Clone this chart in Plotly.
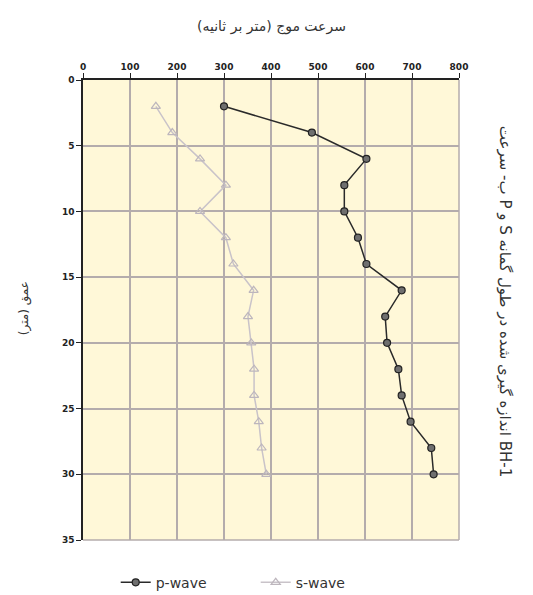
import plotly.graph_objects as go

depth = [2, 4, 6, 8, 10, 12, 14, 16, 18, 20, 22, 24, 26, 28, 30]
p_wave = [300, 487, 603, 556, 556, 585, 603, 678, 643, 647, 671, 678, 697, 741, 746]
s_wave = [155, 190, 249, 304, 249, 304, 320, 363, 351, 358, 364, 364, 374, 380, 390]
x_ticks = [0, 100, 200, 300, 400, 500, 600, 700, 800]
y_ticks = [0, 5, 10, 15, 20, 25, 30, 35]

x_title = "سرعت موج (متر بر ثانیه)"
y_title = "عمق (متر)"
side_title = "ب- سرعت P و S اندازه گیری شده در طول گمانه BH-1"

tick_font = dict(size=9, family="DejaVu Sans", color="#222", weight="bold")

fig = go.Figure()
fig.add_trace(go.Scatter(
    x=p_wave, y=depth, name="p-wave", mode="lines+markers",
    line=dict(color="#2a2a2a", width=1.5),
    marker=dict(symbol="circle", size=7, color="#6f6f6f", line=dict(color="#222222", width=1.2)),
))
fig.add_trace(go.Scatter(
    x=s_wave, y=depth, name="s-wave", mode="lines+markers",
    line=dict(color="#c9c3c9", width=1.5),
    marker=dict(symbol="triangle-up-open", size=8, color="#bdb6bd", line=dict(width=1.2)),
))

fig.update_layout(
    width=533, height=595,
    margin=dict(l=83, r=74, t=80, b=55, autoexpand=False),
    paper_bgcolor="white",
    plot_bgcolor="#fff8d8",
    font=dict(family="DejaVu Sans", size=9, color="#222222"),
    showlegend=True,
    legend=dict(orientation="h", x=0.087, xanchor="left", y=-0.058, yanchor="top",
                entrywidth=95, entrywidthmode="pixels",
                font=dict(size=14, color="#333333", family="DejaVu Sans")),
    xaxis=dict(
        range=[0, 800], side="top", tickvals=x_ticks, ticks="outside", ticklen=5,
        tickcolor="#222", showline=True, linecolor="#222", linewidth=1.5,
        showgrid=True, gridcolor="#b4acac", gridwidth=1.5, zeroline=False,
        tickfont=tick_font,
    ),
    yaxis=dict(
        range=[35, 0], tickvals=y_ticks, ticks="outside", ticklen=5,
        tickcolor="#222", showline=True, linecolor="#222", linewidth=1.5,
        showgrid=True, gridcolor="#b4acac", gridwidth=1.5, zeroline=False,
        tickfont=tick_font,
    ),
    annotations=[
        dict(text=x_title, xref="paper", yref="paper", x=0.5, y=1, yanchor="middle", yshift=54,
             showarrow=False, font=dict(family="DejaVu Sans", size=14, color="#333")),
        dict(text=y_title, xref="paper", yref="paper", x=0, xanchor="center", xshift=-59, y=0.504,
             textangle=-90, showarrow=False, font=dict(family="DejaVu Sans", size=12, color="#333")),
        dict(text=side_title, xref="paper", yref="paper", x=1, xanchor="center", xshift=46, y=0.52,
             textangle=90, showarrow=False, font=dict(family="DejaVu Sans", size=15, color="#333")),
    ],
)
# right and bottom border in grid colour
fig.add_shape(type="line", xref="paper", yref="paper", x0=1, x1=1, y0=0, y1=1,
              line=dict(color="#b4acac", width=1.5))
fig.add_shape(type="line", xref="paper", yref="paper", x0=0, x1=1, y0=0, y1=0,
              line=dict(color="#b4acac", width=1.5))

fig.write_html("out.html")
